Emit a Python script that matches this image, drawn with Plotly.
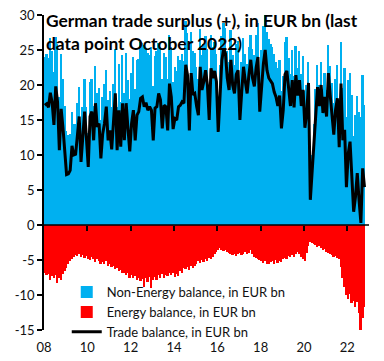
import plotly.graph_objects as go

# Tick labels
year_labels = ["08", "10", "12", "14", "16", "18", "20", "22"]
y_tick_values = [-15, -10, -5, 0, 5, 10, 15, 20, 25, 30]
y_tick_labels = ["-15", "-10", "-5", "0", "5", "10", "15", "20", "25", "30"]

# Monthly values, Jan 2008 .. Oct 2022 (EUR bn)
non_energy = [
    24.0, 24.5, 23.8, 26.7, 24.8, 21.8, 26.9, 25.9, 18.3, 24.5, 20.9, 17.0,  # 2008
    13.4, 12.8, 13.0, 16.1, 14.5, 14.4, 17.4, 19.7, 13.5, 16.9, 20.9, 16.8,  # 2009
    13.1, 20.5, 20.8, 17.0, 22.7, 18.8, 19.6, 15.0, 18.3, 20.1, 22.1, 17.9,  # 2010
    19.1, 16.8, 20.1, 25.1, 16.8, 23.0, 17.6, 24.3, 18.9, 24.6, 20.7, 18.0,  # 2011
    21.7, 24.0, 19.4, 23.6, 23.7, 26.1, 26.0, 25.7, 25.1, 24.6, 24.3, 25.4,  # 2012
    19.9, 24.1, 24.8, 26.0, 25.5, 20.8, 24.6, 24.0, 20.8, 27.1, 25.5, 20.5,  # 2013
    22.6, 22.0, 24.2, 23.6, 24.4, 23.5, 29.2, 27.4, 19.9, 27.6, 24.8, 24.6,  # 2014
    22.6, 20.9, 28.0, 24.3, 25.8, 27.0, 25.1, 19.7, 27.2, 25.5, 26.2, 24.4,  # 2015
    16.9, 22.8, 27.0, 28.9, 28.1, 24.9, 23.3, 27.8, 24.3, 22.9, 25.9, 26.3,  # 2016
    19.0, 23.3, 26.7, 24.4, 23.0, 25.5, 27.2, 25.2, 24.3, 27.2, 28.9, 21.2,  # 2017
    25.0, 28.4, 30.1, 27.6, 26.6, 25.8, 25.4, 24.5, 23.3, 22.4, 23.6, 19.1,  # 2018
    21.3, 26.2, 26.8, 23.9, 21.6, 25.0, 21.3, 25.6, 22.4, 24.8, 21.6, 24.1,  # 2019
    19.1, 20.0, 23.3, 6.0, 10.0, 14.4, 19.4, 22.9, 20.0, 23.3, 19.5, 21.7,   # 2020
    19.3, 25.7, 22.7, 20.3, 17.4, 20.9, 22.8, 15.9, 26.2, 19.6, 22.4, 15.4,  # 2021
    20.7, 21.7, 18.6, 12.7, 15.7, 18.4, 16.1, 15.5, 21.4, 17.1,              # 2022
]

energy = [
    -6.9, -7.2, -7.0, -7.8, -7.3, -7.5, -7.1, -8.3, -7.6, -7.9, -7.0, -6.6,
    -6.2, -5.5, -5.2, -4.8, -4.5, -4.3, -4.4, -4.2, -4.5, -4.3, -4.7, -4.4,
    -4.8, -5.0, -4.6, -4.9, -5.3, -4.8, -5.1, -5.5, -5.3, -5.6, -5.2, -5.8,
    -5.6, -6.0, -5.9, -6.3, -6.1, -6.6, -6.4, -6.9, -6.8, -7.2, -6.9, -7.5,
    -7.2, -7.6, -7.3, -7.9, -7.5, -8.0, -7.7, -8.8, -7.6, -8.2, -7.4, -9.0,
    -7.8, -7.4, -7.9, -7.2, -7.6, -7.0, -7.5, -7.1, -7.3, -6.9, -7.2, -6.8,
    -7.4, -7.0, -7.3, -6.5, -6.8, -6.1, -6.3, -6.0, -6.4, -5.9, -6.2, -5.8,
    -5.6, -5.2, -5.4, -5.0, -5.3, -4.9, -5.1, -4.7, -4.8, -4.5, -4.2, -3.9,
    -3.6, -3.3, -3.5, -3.7, -3.6, -3.9, -4.0, -4.2, -4.3, -4.1, -4.4, -4.2,
    -4.0, -4.3, -4.1, -3.9, -4.2, -4.0, -3.6, -4.2, -4.5, -4.7, -4.9, -5.0,
    -5.2, -5.4, -5.1, -5.5, -5.6, -5.3, -5.2, -5.5, -5.0, -5.4, -5.1, -5.3,
    -4.9, -4.7, -4.8, -4.4, -4.6, -4.3, -4.5, -4.2, -3.9, -4.1, -4.6, -4.8,
    -5.2, -4.0, -3.0, -2.4, -2.5, -2.7, -2.9, -3.2, -3.0, -3.3, -3.5, -3.4,
    -3.8, -4.0, -4.1, -4.3, -4.5, -4.4, -4.7, -4.8, -6.0, -7.5, -8.8, -10.0,
    -10.5, -9.8, -11.2, -10.8, -11.7, -11.0, -12.6, -15.2, -13.3, -11.7,
]

trade = [
    17.1, 17.3, 16.8, 18.9, 17.5, 14.3, 19.8, 17.6, 10.7, 16.6, 13.9, 10.4,
    7.2, 7.3, 7.8, 11.3, 10.0, 10.1, 13.0, 15.5, 9.0, 12.6, 16.2, 12.4,
    8.3, 15.5, 16.2, 12.1, 17.4, 14.0, 14.5, 9.5, 13.0, 14.5, 16.9, 12.1,
    13.5, 10.8, 14.2, 18.8, 10.7, 16.4, 11.2, 17.4, 12.1, 17.4, 13.8, 10.5,
    14.5, 16.4, 12.1, 15.7, 16.2, 18.1, 18.3, 16.9, 17.5, 16.4, 16.9, 16.4,
    12.1, 16.7, 16.9, 18.8, 17.9, 13.8, 17.1, 16.9, 13.5, 20.2, 18.3, 13.7,
    15.2, 15.0, 16.9, 17.1, 17.6, 17.4, 22.9, 21.4, 13.5, 21.7, 18.6, 18.8,
    17.0, 15.7, 22.6, 19.3, 20.5, 22.1, 20.0, 15.0, 22.4, 21.0, 22.0, 20.5,
    13.3, 19.5, 23.5, 25.2, 24.5, 21.0, 19.3, 23.6, 20.0, 18.8, 21.5, 22.1,
    15.0, 19.0, 22.6, 20.5, 18.8, 21.5, 23.6, 21.0, 19.8, 22.5, 24.0, 16.2,
    19.8, 23.0, 25.0, 22.1, 21.0, 20.5, 20.2, 19.0, 18.3, 17.0, 18.5, 13.8,
    16.4, 21.5, 22.0, 19.5, 17.0, 20.7, 16.8, 21.4, 18.5, 20.7, 17.0, 19.3,
    13.9, 16.0, 20.3, 3.6, 7.5, 11.7, 16.5, 19.7, 17.0, 20.0, 16.0, 18.3,
    15.5, 21.7, 18.6, 16.0, 12.9, 16.5, 18.1, 11.1, 20.2, 12.1, 13.6, 5.4,
    10.2, 11.9, 7.4, 1.9, 4.0, 7.4, 3.5, 0.3, 8.1, 5.4,
]

n = len(trade)
xpos = [i + 0.5 for i in range(n)]
year_ticks = [24 * k for k in range(len(year_labels))]

FONT = "Lato, 'Open Sans', sans-serif"
BLUE = "#00B0F0"
RED = "#FF0000"

fig = go.Figure()
fig.add_trace(go.Bar(x=xpos, y=non_energy, name="Non-Energy balance, in EUR bn",
                     marker=dict(color=BLUE, line=dict(width=0)), width=1.0))
fig.add_trace(go.Bar(x=xpos, y=energy, name="Energy balance, in EUR bn",
                     marker=dict(color=RED, line=dict(width=0)), width=1.0))
fig.add_trace(go.Scatter(x=xpos, y=trade, name="Trade balance, in EUR bn", mode="lines",
                         line=dict(color="black", width=3)))
# helper trace for the zero-line axis with ticks
fig.add_trace(go.Scatter(x=[0, 180], y=[0, 0], xaxis="x2", mode="lines",
                         line=dict(color="black", width=1.5), showlegend=False,
                         hoverinfo="skip"))

# the page body adds an 8px offset, so the figure is 8px smaller on each leading side
fig.update_layout(
    width=376, height=353,
    margin=dict(l=36, r=15, t=7, b=31, autoexpand=False),
    paper_bgcolor="white", plot_bgcolor="white",
    barmode="overlay", bargap=0,
    font=dict(family=FONT, size=13, color="#111"),
    showlegend=True,
    legend=dict(x=0.07, y=0.168, xanchor="left", yanchor="top",
                bgcolor="rgba(0,0,0,0)", font=dict(size=13, color="#111"),
                tracegroupgap=0, itemwidth=30),
    xaxis=dict(range=[0, 180], tickmode="array", tickvals=year_ticks, ticktext=year_labels,
               showgrid=False, zeroline=False, showline=False, ticks="", automargin=False,
               ticklabelstandoff=8, ticklabeloverflow="allow",
               tickfont=dict(size=13, color="#111")),
    xaxis2=dict(range=[0, 180], overlaying="x", anchor="free", position=1/3,
                tickmode="array", tickvals=year_ticks[1:], ticks="outside", ticklen=5,
                tickwidth=1.5, tickcolor="black", showticklabels=False, showgrid=False,
                zeroline=False, showline=False, side="bottom", automargin=False),
    yaxis=dict(range=[-15, 30], tickmode="array", tickvals=y_tick_values, ticktext=y_tick_labels,
               showgrid=False, zeroline=False, showline=True, linecolor="black", linewidth=1.5,
               ticks="outside", ticklen=5, tickwidth=1.5, tickcolor="black", automargin=False,
               ticklabeloverflow="allow", tickfont=dict(size=13, color="#111")),
    annotations=[dict(text="<b>German trade surplus (+), in EUR bn (last<br>data point October 2022)</b>",
                      xref="paper", yref="paper", x=0.0, y=1.022, xanchor="left", yanchor="top",
                      align="left", showarrow=False,
                      font=dict(family=FONT, size=17.4, color="black"))],
)

fig.write_html("out.html")
